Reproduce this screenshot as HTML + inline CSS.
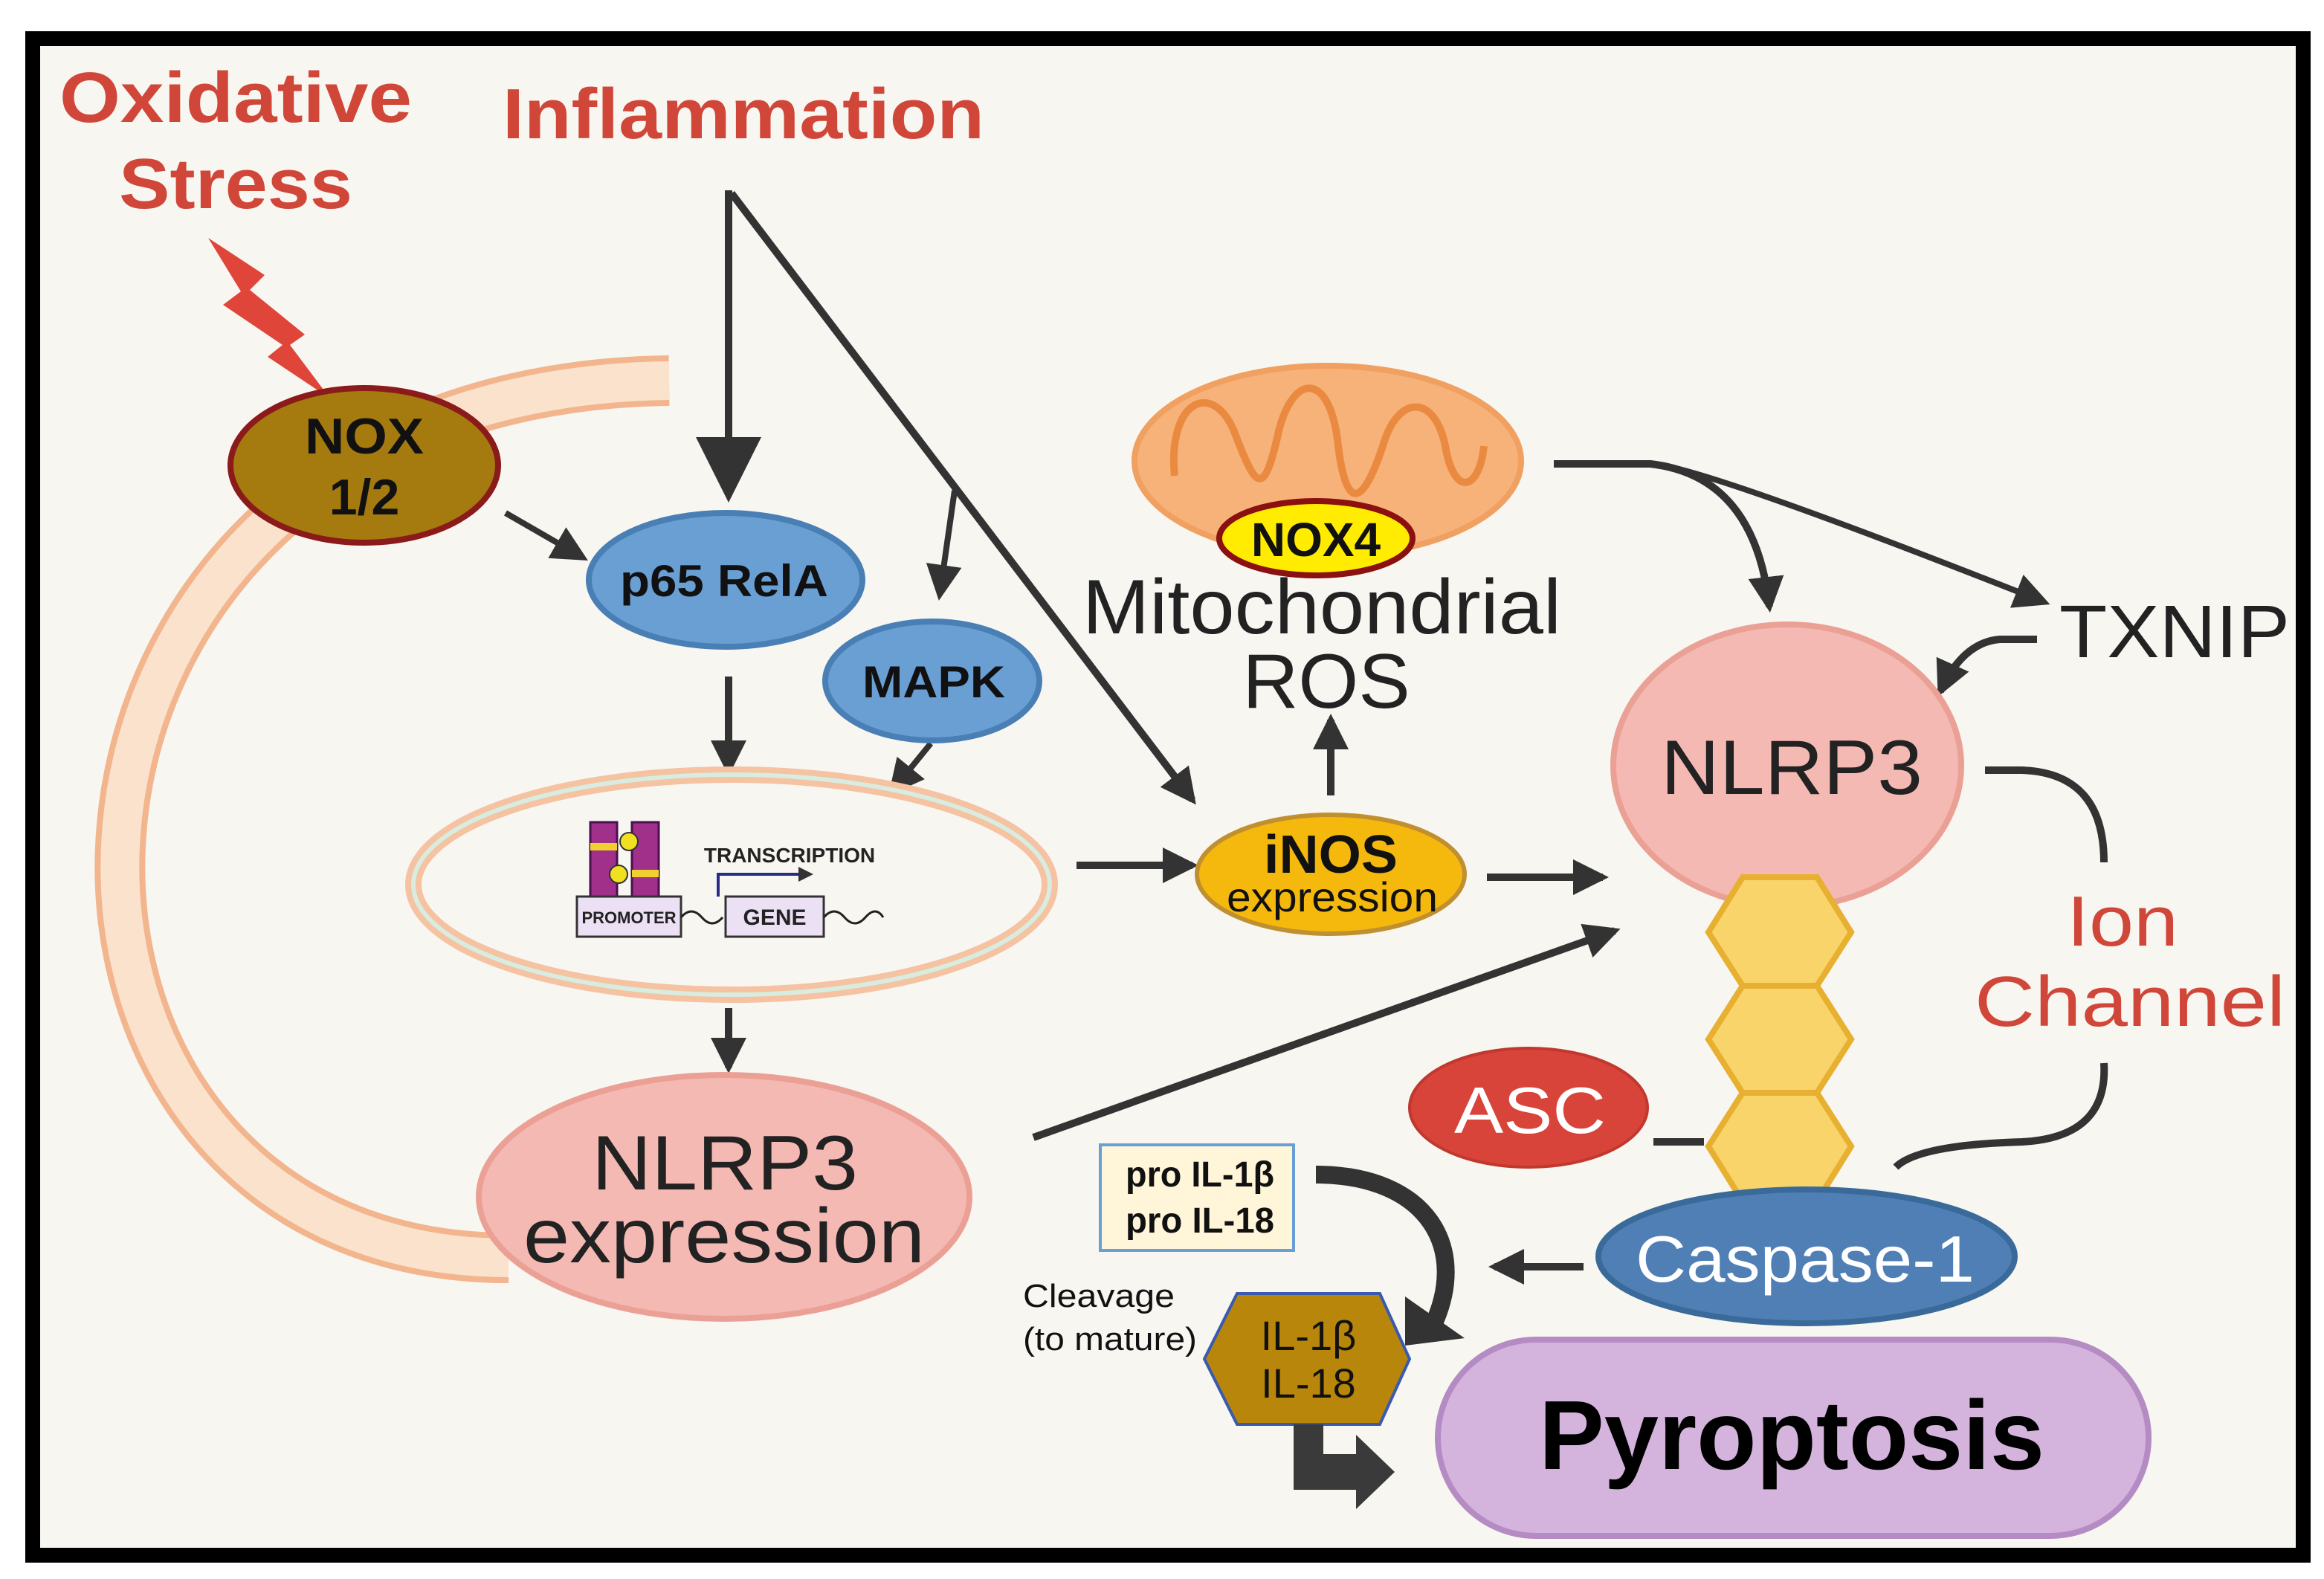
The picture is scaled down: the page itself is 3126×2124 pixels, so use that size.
<!DOCTYPE html>
<html><head><meta charset="utf-8"><style>
html,body{margin:0;padding:0;background:#fff;}
svg{display:block;}
text{font-family:"Liberation Sans",sans-serif;}
</style></head><body>
<svg width="3126" height="2124" viewBox="0 0 1563 1062" preserveAspectRatio="none" xmlns="http://www.w3.org/2000/svg">
<defs>
<marker id="ah" markerWidth="10" markerHeight="10" refX="8" refY="5" orient="auto" markerUnits="userSpaceOnUse" viewBox="0 0 10 10"><path d="M0,0 L10,5 L0,10 z" fill="#333"/></marker>
<marker id="ah2" markerWidth="24" markerHeight="24" refX="20" refY="12" orient="auto" markerUnits="userSpaceOnUse" viewBox="0 0 24 24"><path d="M0,0 L24,12 L0,24 z" fill="#333"/></marker>
<marker id="ah3" markerWidth="44" markerHeight="44" refX="36" refY="22" orient="auto" markerUnits="userSpaceOnUse" viewBox="0 0 44 44"><path d="M0,0 L44,22 L0,44 z" fill="#333"/></marker>
</defs>
<rect x="0" y="0" width="1563" height="1062" fill="#fff"/>
<rect x="22" y="26" width="1527" height="1020" fill="#f8f6f1" stroke="#000" stroke-width="10"/>

<!-- membrane -->
<path d="M450,256 C-20,262 -25,846 342,846" fill="none" stroke="#f2b58d" stroke-width="34"/>
<path d="M450,256 C-20,262 -25,846 342,846" fill="none" stroke="#fbe2cc" stroke-width="26"/>

<text x="40" y="82" font-size="48" font-weight="bold" fill="#d0473a" textLength="237" lengthAdjust="spacingAndGlyphs">Oxidative</text>
<text x="80" y="140" font-size="48" font-weight="bold" fill="#d0473a" textLength="157" lengthAdjust="spacingAndGlyphs">Stress</text>
<text x="338" y="93" font-size="48" font-weight="bold" fill="#d0473a" textLength="324" lengthAdjust="spacingAndGlyphs">Inflammation</text>
<path d="M140,160 L178,185 L168,195 L205,225 L195,232 L222,268 L180,240 L190,232 L150,205 L162,196 Z" fill="#e0453a"/>

<!-- arrows -->
<g stroke="#333" stroke-width="5" fill="none">
<line x1="490" y1="128" x2="490" y2="330" marker-end="url(#ah3)"/>
<line x1="492" y1="130" x2="802" y2="538" marker-end="url(#ah2)"/>
<line x1="642" y1="330" x2="632" y2="400" marker-end="url(#ah2)" stroke-width="4"/>
<line x1="340" y1="345" x2="392" y2="375" marker-end="url(#ah2)" stroke-width="4"/>
<line x1="490" y1="455" x2="490" y2="518" marker-end="url(#ah2)"/>
<line x1="626" y1="500" x2="600" y2="532" marker-end="url(#ah2)" stroke-width="4"/>
<line x1="490" y1="678" x2="490" y2="718" marker-end="url(#ah2)"/>
<line x1="724" y1="582" x2="802" y2="582" marker-end="url(#ah2)"/>
<line x1="1000" y1="590" x2="1078" y2="590" marker-end="url(#ah2)"/>
<line x1="895" y1="535" x2="895" y2="484" marker-end="url(#ah2)"/>
<line x1="695" y1="765" x2="1086" y2="626" marker-end="url(#ah2)"/>
<path d="M1045,312 L1110,312 Q1180,320 1190,408" marker-end="url(#ah2)"/>
<path d="M1110,312 Q1140,312 1375,405" marker-end="url(#ah2)" stroke-width="4"/>
<path d="M1370,430 L1345,430 Q1320,432 1305,465" marker-end="url(#ah2)"/>
<path d="M1335,518 L1360,518 Q1415,520 1415,580"/>
<path d="M1415,715 Q1418,765 1360,768 Q1290,770 1275,785"/>
<line x1="1112" y1="768" x2="1146" y2="768"/>
<line x1="1065" y1="852" x2="1005" y2="852" marker-end="url(#ah2)"/>
</g>

<!-- NOX 1/2 -->
<ellipse cx="245" cy="313" rx="90" ry="52" fill="#a57a0f" stroke="#8b1a1a" stroke-width="4"/>
<text x="205" y="305" font-size="34" font-weight="bold" fill="#111" textLength="80" lengthAdjust="spacingAndGlyphs">NOX</text>
<text x="245" y="346" font-size="34" font-weight="bold" text-anchor="middle" fill="#111">1/2</text>

<!-- p65 / MAPK -->
<ellipse cx="488" cy="390" rx="92" ry="45" fill="#6a9fd4" stroke="#4a7fb5" stroke-width="4"/>
<text x="417" y="401" font-size="30" font-weight="bold" fill="#111" textLength="140" lengthAdjust="spacingAndGlyphs">p65 RelA</text>
<ellipse cx="627" cy="458" rx="72" ry="40" fill="#6a9fd4" stroke="#4a7fb5" stroke-width="4"/>
<text x="580" y="469" font-size="30" font-weight="bold" fill="#111" textLength="96" lengthAdjust="spacingAndGlyphs">MAPK</text>

<!-- nucleus -->
<ellipse cx="492" cy="595" rx="214" ry="74" fill="none" stroke="#f5c2a2" stroke-width="11"/>
<ellipse cx="492" cy="595" rx="214" ry="74" fill="none" stroke="#d8ecdf" stroke-width="3"/>
<g>
<rect x="397" y="553" width="18" height="52" fill="#a0308a" stroke="#4a1050" stroke-width="1.5"/>
<rect x="425" y="553" width="18" height="52" fill="#a0308a" stroke="#4a1050" stroke-width="1.5"/>
<rect x="397" y="567" width="18" height="5" fill="#f0d030"/>
<rect x="425" y="585" width="18" height="5" fill="#f0d030"/>
<circle cx="423" cy="566" r="6" fill="#f0e020" stroke="#333"/>
<circle cx="416" cy="588" r="6" fill="#f0e020" stroke="#333"/>
<rect x="388" y="603" width="70" height="27" fill="#ece0f5" stroke="#333" stroke-width="1.5"/>
<text x="423" y="621" font-size="11" font-weight="bold" text-anchor="middle" fill="#222">PROMOTER</text>
<rect x="488" y="603" width="66" height="27" fill="#ece0f5" stroke="#333" stroke-width="1.5"/>
<text x="521" y="622" font-size="15" font-weight="bold" text-anchor="middle" fill="#222">GENE</text>
<path d="M458,617 q7,-8 14,0 t14,0 M554,617 q7,-8 14,0 t14,0 t12,0" fill="none" stroke="#222" stroke-width="1.5"/>
<path d="M483,603 L483,588 L545,588" fill="none" stroke="#2a2a8a" stroke-width="2" marker-end="url(#ah)"/>
<text x="531" y="580" font-size="14" font-weight="bold" text-anchor="middle" fill="#222">TRANSCRIPTION</text>
</g>

<!-- NLRP3 expression -->
<ellipse cx="487" cy="805" rx="165" ry="82" fill="#f4b9b2" stroke="#eba096" stroke-width="4"/>
<text x="398" y="800" font-size="52" fill="#222" textLength="179" lengthAdjust="spacingAndGlyphs">NLRP3</text>
<text x="352" y="849" font-size="52" fill="#222" textLength="270" lengthAdjust="spacingAndGlyphs">expression</text>

<!-- mitochondria -->
<ellipse cx="893" cy="310" rx="130" ry="64" fill="#f7b27a" stroke="#f0a060" stroke-width="4"/>
<path d="M790,320 C785,270 815,255 830,290 C845,330 850,335 860,290 C870,250 895,250 900,300 C905,340 915,345 930,300 C940,265 965,265 972,300 C978,335 995,330 998,300" fill="none" stroke="#ea8a40" stroke-width="5"/>
<ellipse cx="885" cy="362" rx="65" ry="25" fill="#ffec00" stroke="#8b1010" stroke-width="4"/>
<text x="885" y="374" font-size="32" font-weight="bold" text-anchor="middle" fill="#111">NOX4</text>
<text x="728" y="426" font-size="52" fill="#222" textLength="322" lengthAdjust="spacingAndGlyphs">Mitochondrial</text>
<text x="892" y="476" font-size="52" text-anchor="middle" fill="#222">ROS</text>

<!-- iNOS -->
<ellipse cx="895" cy="588" rx="90" ry="40" fill="#f5b80d" stroke="#c09030" stroke-width="3"/>
<text x="850" y="587" font-size="36" font-weight="bold" fill="#111" textLength="90" lengthAdjust="spacingAndGlyphs">iNOS</text>
<text x="825" y="613" font-size="28" fill="#111" textLength="142" lengthAdjust="spacingAndGlyphs">expression</text>

<text x="1385" y="442" font-size="50" fill="#222" textLength="155" lengthAdjust="spacingAndGlyphs">TXNIP</text>

<!-- NLRP3 -->
<ellipse cx="1202" cy="515" rx="117" ry="95" fill="#f4b9b2" stroke="#eaa095" stroke-width="4"/>
<text x="1117" y="534" font-size="52" fill="#222" textLength="176" lengthAdjust="spacingAndGlyphs">NLRP3</text>

<g fill="#f9d46b" stroke="#e8b030" stroke-width="4">
<polygon points="1172,590 1222,590 1245,627 1222,663 1172,663 1149,627"/>
<polygon points="1172,663 1222,663 1245,699 1222,735 1172,735 1149,699"/>
<polygon points="1172,735 1222,735 1245,771 1222,808 1172,808 1149,771"/>
</g>

<text x="1390" y="636" font-size="48" fill="#d0473a" textLength="75" lengthAdjust="spacingAndGlyphs">Ion</text>
<text x="1328" y="690" font-size="48" fill="#d0473a" textLength="209" lengthAdjust="spacingAndGlyphs">Channel</text>

<ellipse cx="1028" cy="745" rx="80" ry="40" fill="#d9443a" stroke="#c0382e" stroke-width="2"/>
<text x="978" y="762" font-size="44" fill="#fff" textLength="102" lengthAdjust="spacingAndGlyphs">ASC</text>

<ellipse cx="1215" cy="845" rx="140" ry="45" fill="#4f7fb5" stroke="#3a6a9a" stroke-width="4"/>
<text x="1100" y="862" font-size="44" fill="#fff" textLength="228" lengthAdjust="spacingAndGlyphs">Caspase-1</text>

<!-- pro IL -->
<rect x="740" y="770" width="130" height="71" fill="#fff5d8" stroke="#6a9fd4" stroke-width="2"/>
<text x="757" y="798" font-size="24" font-weight="bold" fill="#111" textLength="100" lengthAdjust="spacingAndGlyphs">pro IL-1β</text>
<text x="757" y="829" font-size="24" font-weight="bold" fill="#111" textLength="100" lengthAdjust="spacingAndGlyphs">pro IL-18</text>
<path d="M885,790 C960,790 990,840 962,895" fill="none" stroke="#333" stroke-width="12"/>
<polygon points="945,872 985,900 945,905" fill="#333"/>

<text x="688" y="879" font-size="22" fill="#111" textLength="102" lengthAdjust="spacingAndGlyphs">Cleavage</text>
<text x="688" y="908" font-size="22" fill="#111" textLength="117" lengthAdjust="spacingAndGlyphs">(to mature)</text>
<polygon points="832,870 928,870 948,914 928,958 832,958 810,914" fill="#b8860b" stroke="#3a5ab0" stroke-width="2"/>
<text x="880" y="908" font-size="28" text-anchor="middle" fill="#111">IL-1β</text>
<text x="880" y="940" font-size="28" text-anchor="middle" fill="#111">IL-18</text>
<path d="M870,958 L890,958 L890,978 L912,978 L912,965 L938,990 L912,1015 L912,1002 L870,1002 Z" fill="#3a3a3a"/>

<rect x="967" y="901" width="478" height="132" rx="66" fill="#d4b4dc" stroke="#b58bc4" stroke-width="4"/>
<text x="1035" y="988" font-size="66" font-weight="bold" fill="#000" textLength="340" lengthAdjust="spacingAndGlyphs">Pyroptosis</text>
</svg>
</body></html>
